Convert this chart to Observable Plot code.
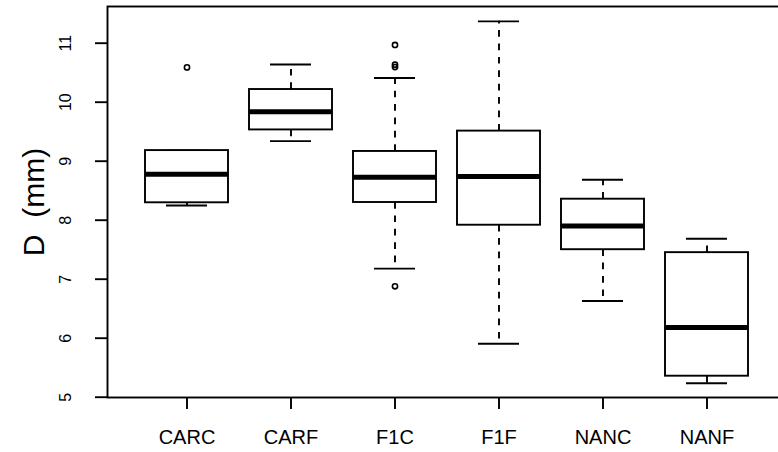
<!DOCTYPE html>
<html>
<head>
<meta charset="utf-8">
<script src="https://cdn.jsdelivr.net/npm/d3@7"></script>
<script src="https://cdn.jsdelivr.net/npm/@observablehq/plot@0.6"></script>
<style>
  html, body { margin: 0; padding: 0; background: white; overflow: hidden; }
  svg text { white-space: pre; }
</style>
</head>
<body>
<div id="chart"></div>
<script>
const categories = ["CARC", "CARF", "F1C", "F1F", "NANC", "NANF"];
const lowerWhisker = [8.25, 9.34, 7.18, 5.905, 6.63, 5.237];
const q1 = [8.295, 9.53, 8.30, 7.915, 7.50, 5.356];
const median = [8.78, 9.84, 8.73, 8.74, 7.90, 6.18];
const q3 = [9.18, 10.215, 9.165, 9.51, 8.356, 7.45];
const upperWhisker = [9.18, 10.64, 10.41, 11.37, 8.685, 7.685];
const outlierGroup = ["CARC", "F1C", "F1C", "F1C", "F1C"];
const outlierValue = [10.59, 10.97, 10.635, 10.595, 6.88];
const yTicks = [5, 6, 7, 8, 9, 10, 11];
const yLabel = "D  (mm)";

const boxes = categories.map((c, i) => ({
  cat: c, lo: lowerWhisker[i], q1: q1[i], med: median[i], q3: q3[i], hi: upperWhisker[i]
}));
const outliers = outlierGroup.map((c, i) => ({cat: c, v: outlierValue[i]}));

const lw = 1.9;
const chart = Plot.plot({
  width: 778,
  height: 452,
  marginLeft: 107,
  marginRight: -8,
  marginTop: 6,
  marginBottom: 55,
  style: {fontFamily: "'Liberation Sans', Arial, sans-serif", color: "black", background: "white"},
  x: {domain: categories, paddingInner: 0.2, paddingOuter: 0.34, label: null},
  y: {domain: [4.995, 11.622], label: null},
  marks: [
    Plot.ruleX(boxes, {x: "cat", y1: "q3", y2: "hi", stroke: "black", strokeWidth: lw, strokeDasharray: "6.7,6.7"}),
    Plot.ruleX(boxes, {x: "cat", y1: "q1", y2: "lo", stroke: "black", strokeWidth: lw, strokeDasharray: "6.7,6.7"}),
    Plot.tickY(boxes, {x: "cat", y: "hi", stroke: "black", strokeWidth: lw, insetLeft: 21, insetRight: 21}),
    Plot.tickY(boxes, {x: "cat", y: "lo", stroke: "black", strokeWidth: lw, insetLeft: 21, insetRight: 21}),
    Plot.barY(boxes, {x: "cat", y1: "q1", y2: "q3", fill: "white", stroke: "black", strokeWidth: lw}),
    Plot.tickY(boxes, {x: "cat", y: "med", stroke: "black", strokeWidth: 5}),
    Plot.dot(outliers, {x: "cat", y: "v", r: 2.6, stroke: "black", strokeWidth: 1.6, fill: "none"}),
    Plot.frame({stroke: "black", strokeWidth: lw}),
    Plot.axisX({tickSize: 12, tickPadding: 20, fontSize: 20, strokeWidth: lw, label: null}),
    Plot.axisY({ticks: yTicks, tickSize: 12, tickFormat: () => "", strokeWidth: lw, label: null}),
    Plot.text(yTicks, {y: d => d, text: d => String(d), frameAnchor: "left", dx: -37, rotate: -90,
      textAnchor: "middle", lineAnchor: "bottom", fontSize: 16, fill: "black"}),
    Plot.text([yLabel], {text: d => d, frameAnchor: "left", dx: -64, rotate: -90,
      textAnchor: "middle", lineAnchor: "bottom", fontSize: 30, fill: "black"})
  ]
});
document.getElementById("chart").appendChild(chart);
</script>
</body>
</html>
